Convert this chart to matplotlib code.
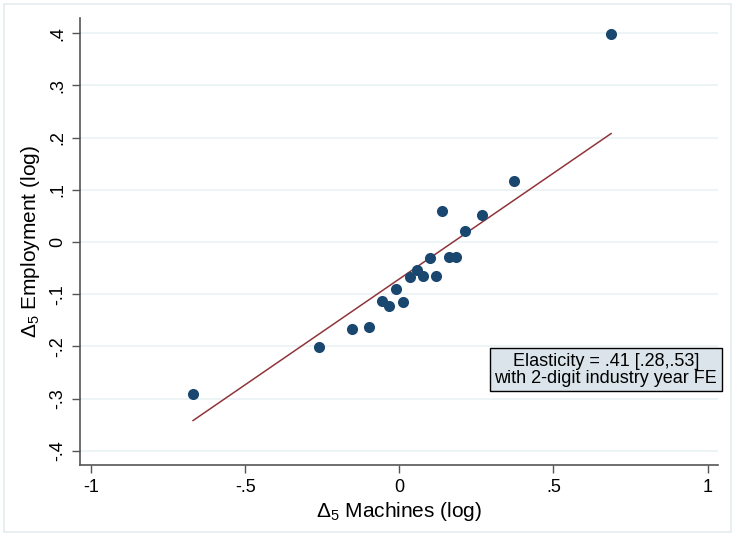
import numpy as np
import matplotlib
matplotlib.use('Agg')
from matplotlib import pyplot as plt
from matplotlib.patches import Rectangle

## Données

machines = [-0.670, -0.261, -0.154, -0.098, -0.058, -0.034, -0.010, 0.011, 0.035,
            0.057, 0.078, 0.099, 0.119, 0.138, 0.160, 0.182, 0.213, 0.269, 0.372, 0.687]
emploi = [-0.291, -0.201, -0.166, -0.162, -0.112, -0.123, -0.090, -0.114, -0.067,
          -0.054, -0.066, -0.031, -0.066, 0.060, -0.029, -0.029, 0.021, 0.052, 0.117, 0.398]
pente = 0.405
constante = -0.0705
xticks = [-1, -0.5, 0, 0.5, 1]
xlabels = ['-1', '-.5', '0', '.5', '1']
yticks = [-0.4, -0.3, -0.2, -0.1, 0, 0.1, 0.2, 0.3, 0.4]
ylabels = ['-.4', '-.3', '-.2', '-.1', '0', '.1', '.2', '.3', '.4']
texte = 'Elasticity = .41 [.28,.53]\nwith 2-digit industry year FE'

## Style

plt.rcParams['font.family'] = ['Liberation Sans', 'DejaVu Sans']
plt.rcParams['mathtext.fontset'] = 'custom'
plt.rcParams['mathtext.rm'] = 'Liberation Sans'
plt.rcParams['mathtext.it'] = 'Liberation Sans:italic'

fig = plt.figure(figsize=(7.35, 5.36), dpi=100)
fig.patches.append(Rectangle((0.006, 0.008), 0.988, 0.985, transform=fig.transFigure,
                             fill=False, edgecolor='#e4ecef', linewidth=1.2))
ax = fig.add_axes([80/735, 71/536, 638/735, 447/536])

## Tracé

ax.scatter(machines, emploi, s=64, color='#1a476f', zorder=3, linewidths=0)
xs = np.array([min(machines), max(machines)])
ax.plot(xs, constante + pente*xs, color='#90353b', linewidth=1.1, zorder=2)

ax.set_xlim(-1.037, 1.034)
ax.set_ylim(-0.427, 0.429)
ax.set_xticks(xticks)
ax.set_xticklabels(xlabels, fontsize=13)
ax.set_yticks(yticks)
ax.set_yticklabels(ylabels, fontsize=13, rotation=90, va='center')
for y in yticks:
    ax.axhline(y, color='#eaf2f3', linewidth=1.2, zorder=0)

for s in ['top', 'right']:
    ax.spines[s].set_visible(False)
for s in ['left', 'bottom']:
    ax.spines[s].set_color('#555555')
    ax.spines[s].set_linewidth(1.2)
ax.tick_params(direction='out', length=6, width=1, color='#555555', pad=4)

ax.set_xlabel(r'$\Delta_5$ Machines (log)', fontsize=15, labelpad=3)
ax.set_ylabel(r'$\Delta_5$ Employment (log)', fontsize=15, labelpad=5)

ax.text(0.670, -0.245, texte, ha='center', va='center', fontsize=13, linespacing=1.0,
        bbox=dict(boxstyle='square,pad=0.25', facecolor='#dae4ea', edgecolor='black', linewidth=1))

fig.savefig('out.png', dpi=100)
